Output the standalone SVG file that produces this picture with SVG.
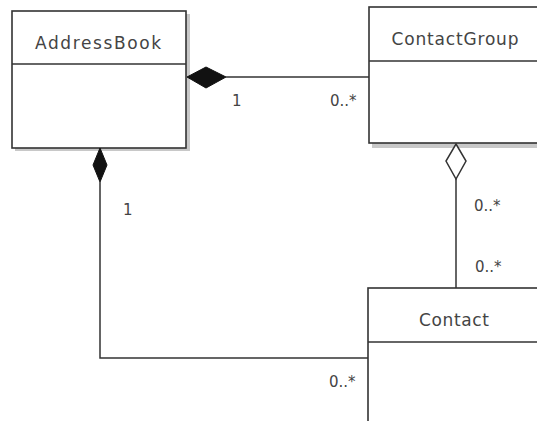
<svg xmlns="http://www.w3.org/2000/svg" width="537" height="421" viewBox="0 0 537 421">
<style>
.box{fill:#fff;stroke:#333;stroke-width:1.6}
.shadow{fill:#c8c8c8}
.div{stroke:#333;stroke-width:1.6}
.t{font-family:"DejaVu Sans",sans-serif;font-size:17px;fill:#444}
.m{font-family:"DejaVu Sans",sans-serif;font-size:15px;fill:#444}
.line{fill:none;stroke:#333;stroke-width:1.5}
.filled{fill:#111;stroke:#111;stroke-width:1}
.hollow{fill:#fff;stroke:#333;stroke-width:1.5}
</style>
<rect width="537" height="421" fill="#fff"/>
<g id="AddressBook">
<rect class="shadow" x="15" y="14" width="175" height="137"/>
<rect class="box" x="12" y="11" width="174" height="137"/>
<line class="div" x1="12" y1="64" x2="186" y2="64"/>
<text class="t" x="98" y="49" text-anchor="middle" textLength="126" lengthAdjust="spacing">AddressBook</text>
</g>
<g id="ContactGroup">
<rect class="shadow" x="372" y="10" width="170" height="138"/>
<rect class="box" x="369" y="7" width="175" height="136"/>
<line class="div" x1="369" y1="61" x2="544" y2="61"/>
<text class="t" x="455" y="45" text-anchor="middle" textLength="127" lengthAdjust="spacing">ContactGroup</text>
</g>
<g id="Contact">
<rect class="box" x="368" y="288" width="180" height="140"/>
<line class="div" x1="368" y1="342" x2="548" y2="342"/>
<text class="t" x="454" y="326" text-anchor="middle" textLength="70" lengthAdjust="spacing">Contact</text>
</g>
<g id="connectors">
<line class="line" x1="226" y1="77" x2="369" y2="77"/>
<polygon class="filled" points="187,77 206,67 226,77 206,88"/>
<polyline class="line" points="100,182 100,358 368,358"/>
<polygon class="filled" points="100,148 107,165 100,182 93,165"/>
<line class="line" x1="456" y1="179" x2="456" y2="288"/>
<polygon class="hollow" points="456,144 466,161 456,179 446,161"/>
<text class="m" x="232" y="106">1</text>
<text class="m" x="330" y="106">0..*</text>
<text class="m" x="123" y="215">1</text>
<text class="m" x="474" y="211">0..*</text>
<text class="m" x="475" y="272">0..*</text>
<text class="m" x="329" y="387">0..*</text>
</g>
</svg>
